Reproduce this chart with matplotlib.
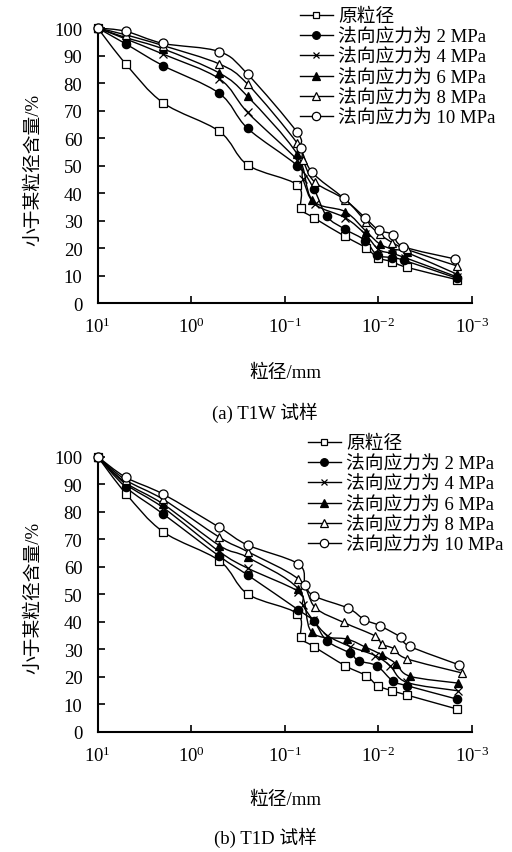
import numpy as np
import matplotlib
matplotlib.use('Agg')
import matplotlib.pyplot as plt
from matplotlib.path import Path
from matplotlib.patches import PathPatch
from matplotlib.lines import Line2D
from matplotlib.ticker import NullLocator

plt.rcParams['font.family'] = ['Liberation Serif', 'Noto Sans CJK SC']
plt.rcParams['mathtext.fontset'] = 'custom'
plt.rcParams['mathtext.rm'] = 'Liberation Serif'
plt.rcParams['mathtext.it'] = 'Liberation Serif:italic'

labels = ['原粒径', '法向应力为 2 MPa', '法向应力为 4 MPa',
          '法向应力为 6 MPa', '法向应力为 8 MPa', '法向应力为 10 MPa']
markers = ['s', 'o', 'x', '^', '^', 'o']
faces = ['white', 'black', 'black', 'black', 'white', 'white']
sizes = [5.5, 6, 5.5, 6, 6, 6.5]

# 粒径 (mm)
sieve = [10, 5, 2, 0.5, 0.25]

# (a) T1W 试样: 各级粒径及小于该粒径的含量 (%)
t1w_d = [
    sieve + [0.074, 0.067, 0.049, 0.0226, 0.0135, 0.0102, 0.0071, 0.005, 0.00145],
    sieve + [0.074, 0.049, 0.0356, 0.0226, 0.0138, 0.0104, 0.0072, 0.0053, 0.00145],
    sieve + [0.074, 0.064, 0.048, 0.0226, 0.0138, 0.0100, 0.0071, 0.0052, 0.00145],
    sieve + [0.074, 0.051, 0.0226, 0.0135, 0.0097, 0.0071, 0.005, 0.00145],
    sieve + [0.074, 0.064, 0.048, 0.0226, 0.0135, 0.0097, 0.0071, 0.005, 0.00145],
    sieve + [0.074, 0.067, 0.051, 0.0236, 0.0138, 0.0099, 0.0070, 0.0054, 0.00151],
]
t1w_v = [
    [100, 86.9, 72.8, 62.4, 50.2, 43.0, 34.4, 31.0, 24.2, 20.0, 16.5, 15.0, 13.0, 8.5],
    [100, 94.2, 86.3, 76.2, 63.5, 50.0, 41.5, 31.5, 26.8, 22.7, 17.5, 16.5, 15.5, 9.0],
    [100, 96.0, 90.5, 81.5, 69.3, 52.0, 45.0, 36.0, 31.0, 25.0, 19.5, 18.0, 16.5, 9.5],
    [100, 96.5, 92.4, 83.6, 75.1, 54.2, 37.5, 33.2, 26.0, 21.5, 19.6, 18.4, 10.5],
    [100, 97.5, 93.6, 86.9, 79.6, 58.2, 52.0, 44.0, 37.5, 29.5, 25.0, 22.0, 19.5, 13.5],
    [100, 98.8, 94.4, 91.4, 83.2, 62.1, 56.3, 47.5, 38.2, 30.9, 26.5, 24.9, 20.5, 16.0],
]

# (b) T1D 试样
t1d_d = [
    sieve + [0.074, 0.067, 0.049, 0.0226, 0.0135, 0.0102, 0.0071, 0.005, 0.00145],
    sieve + [0.0715, 0.049, 0.0356, 0.020, 0.0163, 0.0104, 0.0070, 0.005, 0.00145],
    sieve + [0.0715, 0.064, 0.050, 0.035, 0.020, 0.0108, 0.0075, 0.005, 0.0014],
    sieve + [0.0715, 0.0514, 0.0217, 0.0138, 0.0092, 0.0065, 0.0046, 0.0014],
    sieve + [0.0715, 0.0474, 0.0236, 0.0108, 0.0092, 0.0068, 0.005, 0.00128],
    sieve + [0.0715, 0.0607, 0.0482, 0.0209, 0.0142, 0.0097, 0.0058, 0.00465, 0.00139],
]
t1d_v = [
    [100, 86.6, 72.7, 62.2, 50.1, 43.0, 34.3, 31.0, 24.0, 20.4, 16.8, 14.9, 13.4, 8.3],
    [100, 88.9, 79.2, 63.8, 57.0, 44.3, 40.2, 33.1, 28.5, 25.8, 24.0, 18.4, 16.8, 11.9],
    [100, 90.0, 81.5, 65.5, 59.5, 51.0, 46.0, 40.7, 35.0, 31.0, 27.7, 24.0, 18.0, 14.9],
    [100, 90.5, 82.8, 67.7, 63.4, 51.9, 36.2, 33.7, 30.8, 28.0, 24.8, 20.2, 17.7],
    [100, 91.5, 84.5, 70.7, 65.5, 55.5, 45.2, 39.8, 34.8, 31.9, 30.2, 26.6, 21.4],
    [100, 92.5, 86.4, 74.3, 67.9, 61.0, 53.4, 49.3, 44.9, 40.8, 38.6, 34.4, 31.1, 24.4],
]

xticks = [10, 1, 0.1, 0.01, 0.001]
xticklabels = [r'$10^{1}$', r'$10^{0}$', r'$10^{-1}$', r'$10^{-2}$', r'$10^{-3}$']


def smooth_line(ax, d, v):
    # 平滑曲线: 在对数坐标下按 Catmull-Rom 生成三次贝塞尔段
    px = np.log10(d)
    py = np.asarray(v, float)
    n = len(px)
    verts = [(px[0], py[0])]
    codes = [Path.MOVETO]
    for i in range(n - 1):
        i0 = max(i - 1, 0)
        i3 = min(i + 2, n - 1)
        c1 = (px[i] + (px[i + 1] - px[i0]) / 6, py[i] + (py[i + 1] - py[i0]) / 6)
        c2 = (px[i + 1] - (px[i3] - px[i]) / 6, py[i + 1] - (py[i3] - py[i]) / 6)
        verts += [c1, c2, (px[i + 1], py[i + 1])]
        codes += [Path.CURVE4] * 3
    verts = np.array(verts)
    verts[:, 0] = 10 ** verts[:, 0]
    ax.add_patch(PathPatch(Path(verts, codes), fill=False, lw=1.0,
                           ec='black', zorder=2))


def draw_panel(ax, ds, vs):
    for k in range(len(ds)):
        smooth_line(ax, ds[k], vs[k])
        ax.plot(ds[k], vs[k], ls='none', marker=markers[k], ms=sizes[k],
                mfc=faces[k], mec='black', mew=0.9, zorder=3, clip_on=False)
    ax.set_xscale('log')
    ax.set_xlim(10, 1e-3)
    ax.set_ylim(0, 100)
    ax.set_xticks(xticks)
    ax.set_xticklabels(xticklabels)
    ax.xaxis.set_minor_locator(NullLocator())
    ax.set_yticks(range(0, 101, 10))
    for s in ['top', 'right']:
        ax.spines[s].set_visible(False)
    for s in ['left', 'bottom']:
        ax.spines[s].set_linewidth(1.5)
    ax.tick_params(direction='in', length=5, width=1.2, labelsize=13.5)
    ax.tick_params(axis='x', pad=10)
    ax.tick_params(axis='y', pad=11)


fig = plt.figure(figsize=(5.12, 8.53), dpi=100)
ax1 = fig.add_axes([0.1908, 0.6436, 0.731, 0.3224])
ax2 = fig.add_axes([0.1908, 0.1409, 0.731, 0.3225])
draw_panel(ax1, t1w_d, t1w_v)
draw_panel(ax2, t1d_d, t1d_v)

handles = [Line2D([], [], color='black', lw=1.0, marker=markers[k],
                  ms=sizes[k] - 0.5, mfc=faces[k], mec='black', mew=0.9)
           for k in range(6)]
for ax, (lx, ly) in [(ax1, (300, 9)), (ax2, (308, 436))]:
    fig.legend(handles, labels, loc='upper left',
               bbox_to_anchor=(lx / 512, 1 - ly / 853),
               bbox_transform=fig.transFigure, frameon=False, fontsize=13.5,
               handlelength=1.75, handletextpad=0.3, labelspacing=0.16,
               borderpad=0, borderaxespad=0)

for y_axis, y_xl, y_cap, cap in [(170, 373, 413, '(a) T1W 试样'),
                                 (598, 800, 838, '(b) T1D 试样')]:
    fig.text(34 / 512, 1 - y_axis / 853, '小于某粒径含量/%', rotation=90,
             ha='center', va='center', fontsize=13.5)
    fig.text(285 / 512, 1 - y_xl / 853, '粒径/mm', ha='center', va='center',
             fontsize=13.5)
    fig.text(265 / 512, 1 - y_cap / 853, cap, ha='center', va='center',
             fontsize=13.5)

fig.savefig('out.png', dpi=100)
